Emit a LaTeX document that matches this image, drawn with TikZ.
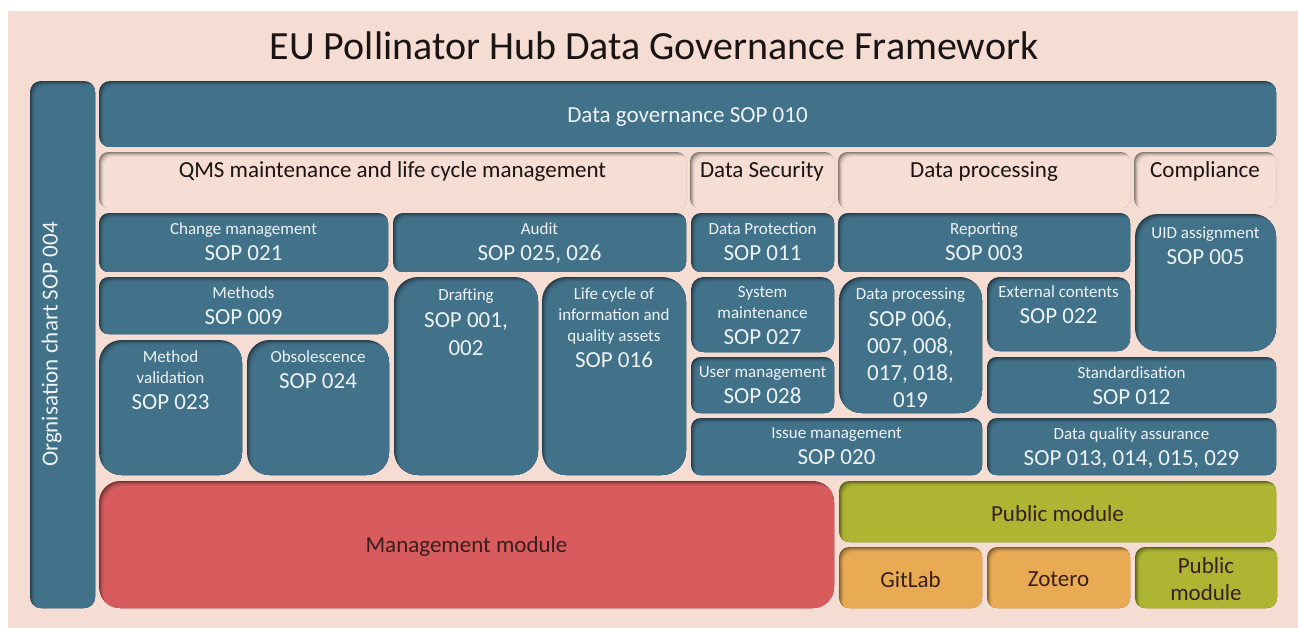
\documentclass[tikz,border=0pt]{standalone}
\usepackage{fontspec}
\setmainfont{Carlito}

\definecolor{pagebg}{HTML}{F5DDD3}
\definecolor{govteal}{HTML}{42718A}
\definecolor{hdrpink}{HTML}{F6DED4}
\definecolor{modred}{HTML}{D85C5D}
\definecolor{modolive}{HTML}{AEB533}
\definecolor{modorange}{HTML}{E8AA52}
\definecolor{lighttext}{HTML}{EEF3F6}
\definecolor{hdrink}{HTML}{1A1414}
\definecolor{modink}{HTML}{3A1E1E}

% recessed rounded panel: #1 name, #2 x1, #3 y1, #4 x2, #5 y2, #6 colour
\newcommand\panel[6]{%
  \pgfmathsetmacro\pw{#4-#2}%
  \pgfmathsetmacro\ph{#5-#3}%
  \pgfmathsetmacro\pr{0.1667*min(\pw,\ph)}%
  \begin{scope}
    \clip[rounded corners=\pr pt] (#2,#3) rectangle (#4,#5);
    \fill[#6!55!black] (#2,#3) rectangle (#4,#5);
    \foreach \s/\m in {1/68,2/80,3/90,4/96,5/100} {
      \fill[#6!\m!black, rounded corners=\pr pt] (#2+\s,#3+\s) rectangle (#4+\s+1,#5+\s+1);
    }
  \end{scope}
  \node[inner sep=0pt, minimum width=\pw pt, minimum height=\ph pt]
    (#1) at ({(#2+#4)/2},{(#3+#5)/2}) {};
}
\newcommand\sopf{\fontsize{23}{21}\selectfont}

\tikzset{
  boxtext/.style={anchor=north, align=center, inner sep=0pt, text=lighttext,
    font=\fontsize{17}{21}\selectfont},
  hdrtext/.style={anchor=north, inner sep=0pt, text=hdrink,
    font=\fontsize{23}{28}\selectfont},
  modtext/.style={align=center, inner sep=0pt, text=modink, yshift=-2pt,
    font=\fontsize{23}{27}\selectfont},
  bigtext/.style={inner sep=0pt, text=lighttext, font=\fontsize{23}{27}\selectfont},
}

\begin{document}
\begin{tikzpicture}[x=1pt, y=-1pt]
  \useasboundingbox (0,0) rectangle (1298,628);
  \fill[white] (0,0) rectangle (1298,628);
  \fill[pagebg] (8,11) rectangle (1298,628);

  \node[inner sep=0pt, text=hdrink, font=\fontsize{40}{48}\selectfont]
    (title) at (654,46) {EU Pollinator Hub Data Governance Framework};

  % side bar and top band
  \panel{org}{30}{81}{95}{608}{govteal}
  \node[bigtext, rotate=90] (org-t) at ([xshift=-11pt]org.center) {Orgnisation chart SOP 004};
  \panel{gov}{99}{81}{1276}{147}{govteal}
  \node[bigtext] (gov-t) at ([yshift=-3pt]gov.center) {Data governance SOP 010};

  % category headers
  \panel{qms}{99}{152}{686}{208}{hdrpink}
  \node[hdrtext] (qms-t) at ([yshift=-10pt]qms.north) {QMS maintenance and life cycle management};
  \panel{sec}{690}{152}{834}{208}{hdrpink}
  \node[hdrtext] (sec-t) at ([yshift=-10pt]sec.north) {Data Security};
  \panel{proc}{838}{152}{1130}{208}{hdrpink}
  \node[hdrtext] (proc-t) at ([yshift=-10pt]proc.north) {Data processing};
  \panel{comp}{1134}{152}{1276}{208}{hdrpink}
  \node[hdrtext] (comp-t) at ([yshift=-10pt]comp.north) {Compliance};

  % QMS procedures
  \panel{cm}{99}{213}{388}{272}{govteal}
  \node[boxtext] (cm-t) at ([yshift=-10pt]cm.north) {Change management\\[5pt]{\sopf SOP 021}};
  \panel{audit}{393}{213}{686}{272}{govteal}
  \node[boxtext] (audit-t) at ([yshift=-10pt]audit.north) {Audit\\[5pt]{\sopf SOP 025, 026}};
  \panel{meth}{99}{277}{388}{334}{govteal}
  \node[boxtext] (meth-t) at ([yshift=-10pt]meth.north) {Methods\\[5pt]{\sopf SOP 009}};
  \panel{mval}{99}{340}{242}{475}{govteal}
  \node[boxtext] (mval-t) at ([yshift=-11pt]mval.north) {Method\\validation\\[5pt]{\sopf SOP 023}};
  \panel{obs}{247}{340}{389}{475}{govteal}
  \node[boxtext] (obs-t) at ([yshift=-11pt]obs.north) {Obsolescence\\[5pt]{\sopf SOP 024}};
  \panel{draft}{394}{277}{538}{475}{govteal}
  \node[boxtext] (draft-t) at ([yshift=-12pt]draft.north) {Drafting\\[6pt]{\sopf SOP 001,}\\[7pt]{\sopf 002}};
  \panel{life}{542}{277}{686}{475}{govteal}
  \node[boxtext] (life-t) at ([yshift=-11pt]life.north) {Life cycle of\\information and\\quality assets\\[5pt]{\sopf SOP 016}};

  % data security procedures
  \panel{dprot}{691}{213}{834}{272}{govteal}
  \node[boxtext] (dprot-t) at ([yshift=-10pt]dprot.north) {Data Protection\\[5pt]{\sopf SOP 011}};
  \panel{sysm}{691}{277}{834}{352}{govteal}
  \node[boxtext] (sysm-t) at ([yshift=-9pt]sysm.north) {System\\maintenance\\[5pt]{\sopf SOP 027}};
  \panel{userm}{691}{357}{834}{413}{govteal}
  \node[boxtext] (userm-t) at ([yshift=-10pt]userm.north) {User management\\[5pt]{\sopf SOP 028}};
  \panel{issue}{691}{418}{982}{475}{govteal}
  \node[boxtext] (issue-t) at ([yshift=-10pt]issue.north) {Issue management\\[5pt]{\sopf SOP 020}};

  % data processing procedures
  \panel{rep}{838}{213}{1130}{272}{govteal}
  \node[boxtext] (rep-t) at ([yshift=-10pt]rep.north) {Reporting\\[5pt]{\sopf SOP 003}};
  \panel{dproc}{839}{277}{982}{413}{govteal}
  \node[boxtext] (dproc-t) at ([yshift=-11pt]dproc.north) {Data processing\\[6pt]{\sopf SOP 006,}\\[6pt]{\sopf 007, 008,}\\[6pt]{\sopf 017, 018,}\\[6pt]{\sopf 019}};
  \panel{ext}{987}{277}{1130}{351}{govteal}
  \node[boxtext] (ext-t) at ([yshift=-9pt]ext.north) {External contents\\[5pt]{\sopf SOP 022}};
  \panel{std}{987}{357}{1276}{413}{govteal}
  \node[boxtext] (std-t) at ([yshift=-10pt]std.north) {Standardisation\\[5pt]{\sopf SOP 012}};
  \panel{dqa}{987}{418}{1276}{475}{govteal}
  \node[boxtext] (dqa-t) at ([yshift=-10pt]dqa.north) {Data quality assurance\\[5pt]{\sopf SOP 013, 014, 015, 029}};

  % compliance
  \panel{uid}{1135}{214}{1276}{351}{govteal}
  \node[boxtext] (uid-t) at ([yshift=-13pt]uid.north) {UID assignment\\[5pt]{\sopf SOP 005}};

  % modules
  \panel{mgmt}{99}{481}{834}{608}{modred}
  \node[modtext] (mgmt-t) at (mgmt) {Management module};
  \panel{pub}{839}{481}{1276}{542}{modolive}
  \node[modtext] (pub-t) at (pub) {Public module};
  \panel{git}{839}{547}{982}{608}{modorange}
  \node[modtext] (git-t) at (git) {GitLab};
  \panel{zot}{987}{547}{1130}{608}{modorange}
  \node[modtext] (zot-t) at (zot) {Zotero};
  \panel{pubb}{1135}{547}{1277}{608}{modolive}
  \node[modtext] (pubb-t) at (pubb) {Public\\module};
\end{tikzpicture}
\end{document}
